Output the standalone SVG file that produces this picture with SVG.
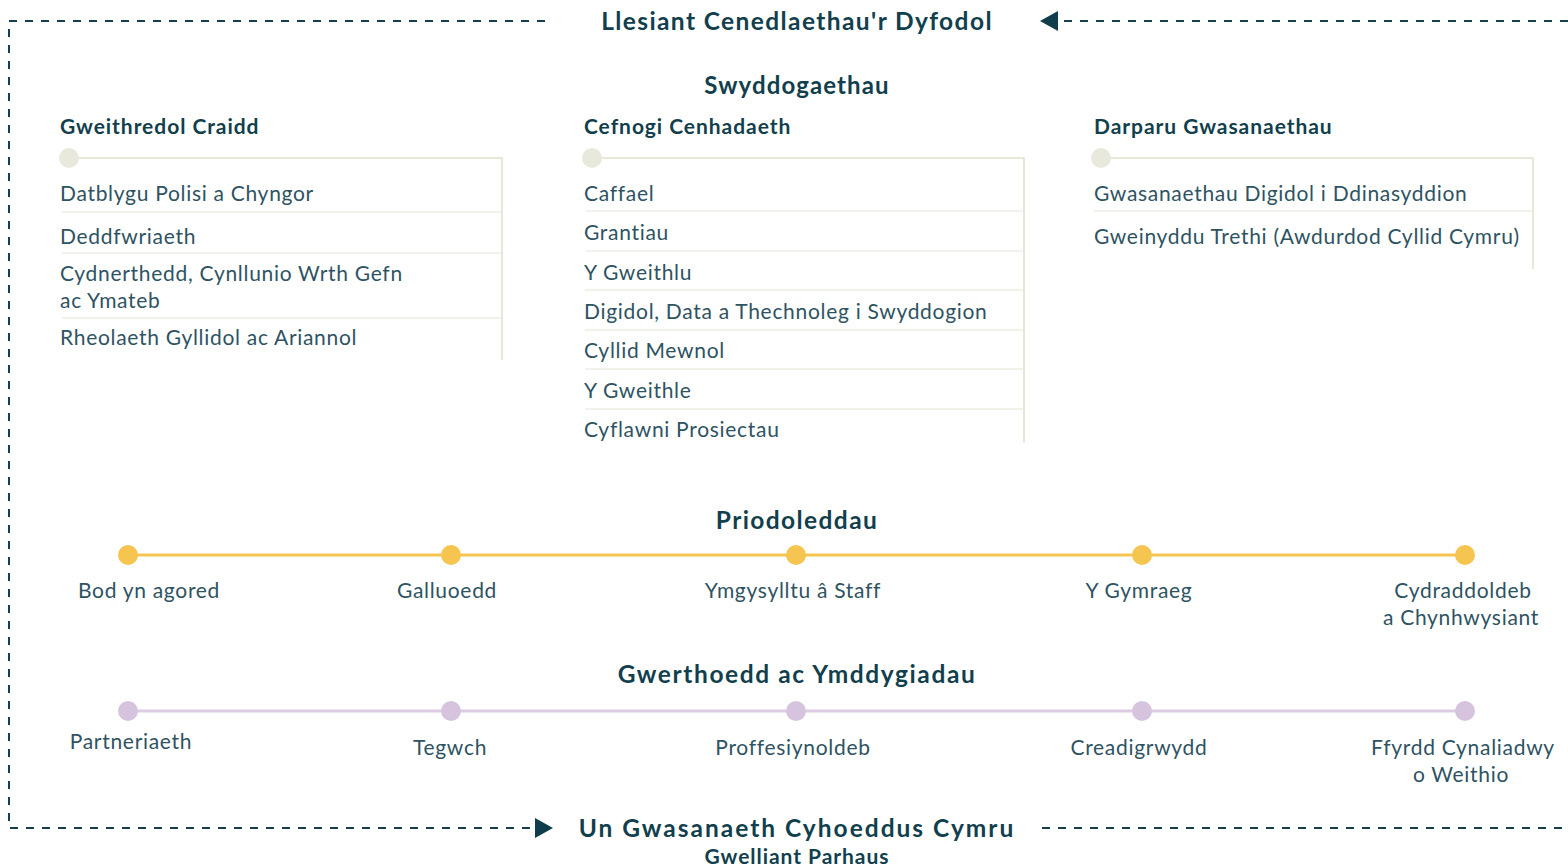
<svg xmlns="http://www.w3.org/2000/svg" width="1568" height="866" viewBox="0 0 1568 866">
<style>
text{font-family:Lato,"Noto Sans","Liberation Sans",sans-serif}
.h1{font-size:24.5px;font-weight:700;fill:#123f4d;letter-spacing:1.4px}
.h2{font-size:24px;font-weight:700;fill:#123f4d;letter-spacing:1.1px}
.h3{font-size:21px;font-weight:700;fill:#123f4d;letter-spacing:0.95px}
.t{font-size:21px;fill:#2e5362;letter-spacing:0.7px}
.c{text-anchor:middle}
.dash{fill:none;stroke:#16404e;stroke-width:2;stroke-dasharray:8 8}
.frame{fill:none;stroke:#e8e8da;stroke-width:2}
.sep{stroke:#eeeee4;stroke-width:1.5}
.dot{fill:#e8e9dc}
.yl{stroke:#f5c54f;stroke-width:3}
.yd{fill:#f5c54f}
.pl{stroke:#dccbe2;stroke-width:3}
.pd{fill:#d6c4df}
</style>
<g id="connectors">
<path class="dash" d="M545 21 H9 V828 H532"/>
<path class="dash" d="M1568 21 H1058"/>
<path class="dash" d="M1042 828 H1568"/>
<polygon points="1040,21 1058,11 1058,31" fill="#0f3d4b"/>
<polygon points="553,828 535,818 535,838" fill="#0f3d4b"/>
</g>
<g id="title-top"><text class="h1 c" x="797" y="30">Llesiant Cenedlaethau'r Dyfodol</text></g>
<g id="title-swydd"><text class="h2 c" x="797" y="94">Swyddogaethau</text></g>
<g id="col1">
<text class="h3" x="60" y="134">Gweithredol Craidd</text>
<path class="frame" d="M69 158 H502 V360"/>
<circle class="dot" cx="69" cy="158" r="10"/>
<line class="sep" x1="62" y1="212" x2="501" y2="212"/>
<line class="sep" x1="62" y1="253" x2="501" y2="253"/>
<line class="sep" x1="62" y1="318" x2="501" y2="318"/>
<text class="t" x="60" y="201">Datblygu Polisi a Chyngor</text>
<text class="t" x="60" y="244">Deddfwriaeth</text>
<text class="t" x="60" y="281">Cydnerthedd, Cynllunio Wrth Gefn</text>
<text class="t" x="60" y="308">ac Ymateb</text>
<text class="t" x="60" y="345">Rheolaeth Gyllidol ac Ariannol</text>
</g>
<g id="col2">
<text class="h3" x="584" y="134">Cefnogi Cenhadaeth</text>
<path class="frame" d="M592 158 H1024 V443"/>
<circle class="dot" cx="592" cy="158" r="10"/>
<line class="sep" x1="585" y1="211" x2="1023" y2="211"/>
<line class="sep" x1="585" y1="251" x2="1023" y2="251"/>
<line class="sep" x1="585" y1="290" x2="1023" y2="290"/>
<line class="sep" x1="585" y1="330" x2="1023" y2="330"/>
<line class="sep" x1="585" y1="369" x2="1023" y2="369"/>
<line class="sep" x1="585" y1="409" x2="1023" y2="409"/>
<text class="t" x="584" y="201">Caffael</text>
<text class="t" x="584" y="240">Grantiau</text>
<text class="t" x="584" y="280">Y Gweithlu</text>
<text class="t" x="584" y="319">Digidol, Data a Thechnoleg i Swyddogion</text>
<text class="t" x="584" y="358">Cyllid Mewnol</text>
<text class="t" x="584" y="398">Y Gweithle</text>
<text class="t" x="584" y="437">Cyflawni Prosiectau</text>
</g>
<g id="col3">
<text class="h3" x="1094" y="134">Darparu Gwasanaethau</text>
<path class="frame" d="M1101 158 H1533 V269"/>
<circle class="dot" cx="1101" cy="158" r="10"/>
<line class="sep" x1="1094" y1="211" x2="1532" y2="211"/>
<text class="t" x="1094" y="201">Gwasanaethau Digidol i Ddinasyddion</text>
<text class="t" x="1094" y="244">Gweinyddu Trethi (Awdurdod Cyllid Cymru)</text>
</g>
<g id="priodoleddau">
<text class="h1 c" x="797" y="529">Priodoleddau</text>
<line class="yl" x1="128" y1="555" x2="1465" y2="555"/>
<circle class="yd" cx="128" cy="555" r="10"/>
<circle class="yd" cx="451" cy="555" r="10"/>
<circle class="yd" cx="796" cy="555" r="10"/>
<circle class="yd" cx="1142" cy="555" r="10"/>
<circle class="yd" cx="1465" cy="555" r="10"/>
<text class="t c" x="149" y="598">Bod yn agored</text>
<text class="t c" x="447" y="598">Galluoedd</text>
<text class="t c" x="793" y="598">Ymgysylltu â Staff</text>
<text class="t c" x="1139" y="598">Y Gymraeg</text>
<text class="t c" x="1463" y="598">Cydraddoldeb</text>
<text class="t c" x="1461" y="625">a Chynhwysiant</text>
</g>
<g id="gwerthoedd">
<text class="h1 c" x="797" y="683" style="letter-spacing:1.6px">Gwerthoedd ac Ymddygiadau</text>
<line class="pl" x1="128" y1="711" x2="1465" y2="711"/>
<circle class="pd" cx="128" cy="711" r="10"/>
<circle class="pd" cx="451" cy="711" r="10"/>
<circle class="pd" cx="796" cy="711" r="10"/>
<circle class="pd" cx="1142" cy="711" r="10"/>
<circle class="pd" cx="1465" cy="711" r="10"/>
<text class="t c" x="131" y="749">Partneriaeth</text>
<text class="t c" x="450" y="755">Tegwch</text>
<text class="t c" x="793" y="755">Proffesiynoldeb</text>
<text class="t c" x="1139" y="755">Creadigrwydd</text>
<text class="t c" x="1463" y="755">Ffyrdd Cynaliadwy</text>
<text class="t c" x="1461" y="782">o Weithio</text>
</g>
<g id="title-bottom">
<text class="h1 c" x="797" y="837" style="letter-spacing:2px">Un Gwasanaeth Cyhoeddus Cymru</text>
<text class="h3 c" x="797" y="864">Gwelliant Parhaus</text>
</g>
</svg>
